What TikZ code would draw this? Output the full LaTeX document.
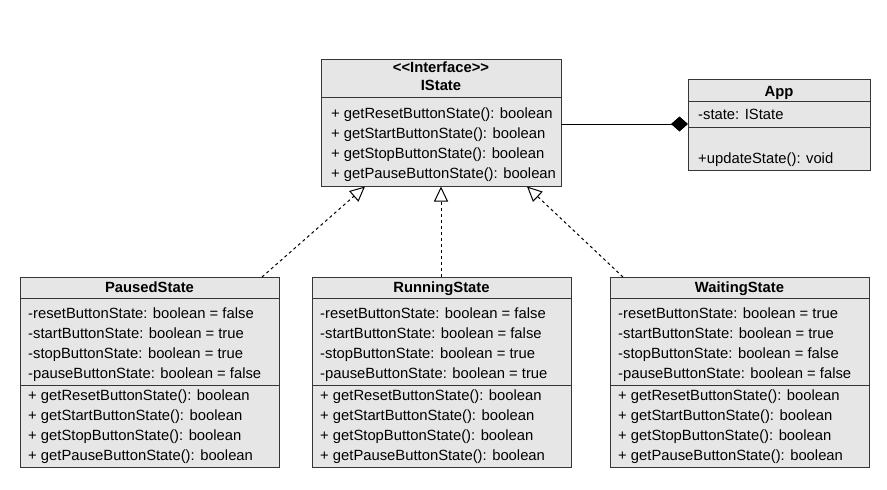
\documentclass[tikz,border=0pt]{standalone}
\usepackage{fontspec}
\setmainfont{Liberation Sans}
\usetikzlibrary{arrows.meta}
\definecolor{boxfill}{HTML}{E6E6E6}
\definecolor{boxline}{HTML}{363636}
\tikzset{
  umlbox/.style={draw=boxline, fill=boxfill, line width=1pt},
  sepline/.style={draw=boxline, line width=1pt},
  txt/.style={anchor=base west, inner sep=0pt, font=\fontsize{14.8}{18}\selectfont},
  ttl/.style={anchor=base, inner sep=0pt, font=\fontsize{14.8}{18}\selectfont\bfseries},
  realize/.style={draw=black, line width=1pt, dash pattern=on 3pt off 3pt,
    -{Triangle[open, length=15pt, width=14pt, fill=white, line width=1pt]}},
  compose/.style={draw=black, line width=1pt, -{Diamond[length=17pt, width=15pt]}}
}
\begin{document}
\begin{tikzpicture}[x=1pt,y=-1pt]
\useasboundingbox (0,0) rectangle (887,490);

% ---------- IState ----------
\path[umlbox] (321,59) rectangle (561,186);
\node[inner sep=0pt, minimum width=240pt, minimum height=127pt, anchor=north west] (istate) at (321,59) {};
\draw[sepline] (321,97) -- (561,97);
\node[ttl] (ist1) at (441,72) {<\kern0pt<Interface>\kern0pt>};
\node[ttl] (ist2) at (441,90) {IState};
\node[txt] (istm1) at (331,118) {+ getResetButtonState(): boolean};
\node[txt] (istm2) at (331,138) {+ getStartButtonState(): boolean};
\node[txt] (istm3) at (331,158) {+ getStopButtonState(): boolean};
\node[txt] (istm4) at (331,178) {+ getPauseButtonState(): boolean};

% ---------- App ----------
\path[umlbox] (688,79) rectangle (870,170);
\node[inner sep=0pt, minimum width=182pt, minimum height=91pt, anchor=north west] (app) at (688,79) {};
\draw[sepline] (688,101) -- (870,101);
\draw[sepline] (688,127) -- (870,127);
\node[ttl] (appt) at (779,96) {App};
\node[txt] (appa) at (698,119) {-state: IState};
\node[txt] (appm) at (698,163) {+updateState(): void};

% ---------- child classes ----------
\foreach \nm/\xl/\ttlt/\ra/\sa/\sb/\pa in {
  paused/20/PausedState/false/true/true/false,
  running/312/RunningState/false/false/true/true,
  waiting/610/WaitingState/true/true/false/false}{
  \path[umlbox] (\xl,277) rectangle ({\xl+259},467);
  \node[inner sep=0pt, minimum width=259pt, minimum height=190pt, anchor=north west] (\nm) at (\xl,277) {};
  \draw[sepline] (\xl,298) -- ({\xl+259},298);
  \draw[sepline] (\xl,385) -- ({\xl+259},385);
  \node[ttl] (\nm-t) at ({\xl+129.5},292) {\ttlt};
  \node[txt] (\nm-a1) at ({\xl+8},318) {-resetButtonState: boolean = \ra};
  \node[txt] (\nm-a2) at ({\xl+8},338) {-startButtonState: boolean = \sa};
  \node[txt] (\nm-a3) at ({\xl+8},358) {-stopButtonState: boolean = \sb};
  \node[txt] (\nm-a4) at ({\xl+8},378) {-pauseButtonState: boolean = \pa};
  \node[txt] (\nm-m1) at ({\xl+8},400) {+ getResetButtonState(): boolean};
  \node[txt] (\nm-m2) at ({\xl+8},420) {+ getStartButtonState(): boolean};
  \node[txt] (\nm-m3) at ({\xl+8},440) {+ getStopButtonState(): boolean};
  \node[txt] (\nm-m4) at ({\xl+8},460) {+ getPauseButtonState(): boolean};
}

% ---------- connector ports ----------
\coordinate (ist-p1) at (365,186.5);
\coordinate (ist-p2) at (441,186.5);
\coordinate (ist-p3) at (527,186.5);
\coordinate (paused-p) at (262,277);
\coordinate (running-p) at (441,277);
\coordinate (waiting-p) at (623,277);
\coordinate (ist-r) at (561,124);
\coordinate (app-l) at (688,124);

% ---------- connectors ----------
\draw[realize] (paused-p) -- (ist-p1);
\draw[realize] (running-p) -- (ist-p2);
\draw[realize] (waiting-p) -- (ist-p3);
\draw[compose] (ist-r) -- (app-l);
\end{tikzpicture}
\end{document}
